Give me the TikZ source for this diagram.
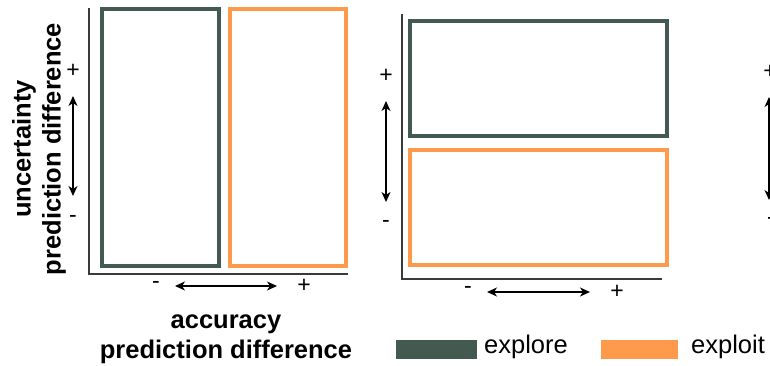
\documentclass[tikz,border=0pt]{standalone}
\usepackage{fontspec}
\setmainfont{Liberation Sans}
\usetikzlibrary{arrows.meta}
\definecolor{exploreC}{HTML}{435A51}
\definecolor{exploitC}{HTML}{FF9A4D}
\definecolor{axisC}{HTML}{3A3A3A}
\tikzset{
  region/.style={draw, line width=4pt, inner sep=0pt, outer sep=0pt, fill=none},
  explorebox/.style={region, draw=exploreC},
  exploitbox/.style={region, draw=exploitC},
  axisline/.style={draw=axisC, line width=1.4pt},
  dirarrow/.style={line width=1.3pt, {Stealth[length=10pt,width=9pt,inset=3pt]}-{Stealth[length=10pt,width=9pt,inset=3pt]}},
  sign/.style={font=\fontsize{23}{24}\selectfont, inner sep=0pt},
  axtitle/.style={font=\fontsize{25.5}{30}\selectfont\bfseries, align=center, inner sep=0pt},
  legtext/.style={font=\fontsize{25.5}{28}\selectfont, anchor=west, inner sep=0pt},
  legbox/.style={inner sep=0pt, outer sep=0pt, minimum width=#1, minimum height=19pt},
}
\begin{document}
\begin{tikzpicture}[x=1pt,y=-1pt]
\useasboundingbox (0,0) rectangle (770,365);
% ---- panel 1 ----
\coordinate (a1top) at (89,8);
\coordinate (a1org) at (89,274);
\coordinate (a1right) at (348,274);
\draw[axisline] (a1top) -- (a1org) -- (a1right);
\node[explorebox, minimum width=117pt, minimum height=257pt] (p1explore) at (160.5,137.5) {};
\node[exploitbox, minimum width=116pt, minimum height=257pt] (p1exploit) at (288,137.5) {};
\node[sign] (p1yplus) at (73,71) {+};
\node[sign] (p1yminus) at (73,219) {-};
\coordinate (p1yu) at (73,96);
\coordinate (p1yd) at (73,196);
\draw[dirarrow] (p1yu) -- (p1yd);
\node[sign] (p1xminus) at (156,285) {-};
\node[sign] (p1xplus) at (304,286) {+};
\coordinate (p1xl) at (175,286);
\coordinate (p1xr) at (277,286);
\draw[dirarrow] (p1xl) -- (p1xr);
\node[axtitle, rotate=90] (ytitle) at (39,149) {uncertainty\\prediction difference};
\node[axtitle] (xtitle) at (226,339) {accuracy\\prediction difference};
% ---- panel 2 ----
\coordinate (a2top) at (402,14);
\coordinate (a2org) at (402,279);
\coordinate (a2right) at (662,279);
\draw[axisline] (a2top) -- (a2org) -- (a2right);
\node[explorebox, minimum width=257pt, minimum height=115pt] (p2explore) at (538.5,78.5) {};
\node[exploitbox, minimum width=257pt, minimum height=115pt] (p2exploit) at (538.5,207.5) {};
\node[sign] (p2yplus) at (386,76) {+};
\node[sign] (p2yminus) at (386,224) {-};
\coordinate (p2yu) at (386,101);
\coordinate (p2yd) at (386,202);
\draw[dirarrow] (p2yu) -- (p2yd);
\node[sign] (p2xminus) at (468,290) {-};
\node[sign] (p2xplus) at (617,292) {+};
\coordinate (p2xl) at (487,292);
\coordinate (p2xr) at (590,292);
\draw[dirarrow] (p2xl) -- (p2xr);
% ---- panel 3 (cut off at the right edge, as in the reference) ----
\node[sign] (p3yplus) at (770,72) {+};
\node[sign] (p3yminus) at (771,221) {-};
\coordinate (p3yu) at (769,97);
\coordinate (p3yd) at (769,200);
\draw[dirarrow] (p3yu) -- (p3yd);
% ---- legend ----
\node[legbox=81pt, fill=exploreC] (legexplore) at (436.5,349.5) {};
\node[legtext] (legexploretxt) at (484,347) {explore};
\node[legbox=77pt, fill=exploitC] (legexploit) at (639.5,349.5) {};
\node[legtext] (legexploittxt) at (691,347) {exploit};
\end{tikzpicture}
\end{document}
